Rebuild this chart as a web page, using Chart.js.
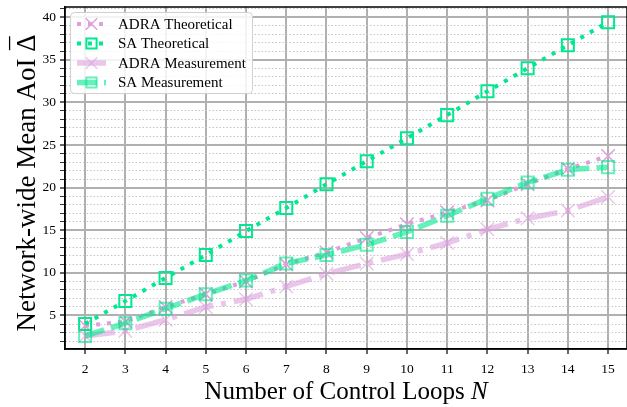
<!DOCTYPE html>
<html>
<head>
<meta charset="utf-8">
<script src="https://cdn.jsdelivr.net/npm/chart.js@4.4.0/dist/chart.umd.min.js"></script>
<style>
  html, body { margin: 0; padding: 0; background: #fff; }
  #wrap { width: 627px; height: 407px; position: relative; }
</style>
</head>
<body>
<div id="wrap"><canvas id="chart"></canvas></div>
<script>
// values
const loops = [2, 3, 4, 5, 6, 7, 8, 9, 10, 11, 12, 13, 14, 15];
const adraTheo = [3.8, 4.3, 6.0, 7.5, 9.0, 11.0, 12.4, 14.1, 15.7, 17.1, 18.5, 20.4, 22.2, 23.7];
const saTheo   = [4.0, 6.7, 9.4, 12.1, 14.9, 17.6, 20.4, 23.1, 25.8, 28.5, 31.3, 34.0, 36.7, 39.4];
const adraMeas = [2.6, 3.2, 4.5, 6.0, 6.9, 8.4, 9.9, 11.1, 12.2, 13.5, 15.1, 16.4, 17.3, 18.9];
const saMeas   = [2.6, 4.1, 5.8, 7.5, 9.1, 11.1, 12.1, 13.3, 14.8, 16.7, 18.7, 20.6, 22.1, 22.4];
const yTicks = [5, 10, 15, 20, 25, 30, 35, 40];

const SERIF = "'Liberation Serif', 'DejaVu Serif', serif";
const plum = '#dda0dd';
const plumLight = 'rgba(221,160,221,0.6)';
const green = '#00e890';
const greenLight = 'rgba(0,232,144,0.6)';

const pts = arr => loops.map((n, i) => ({x: n, y: arr[i]}));

const datasets = [
  {label: 'ADRA Theoretical', data: pts(adraTheo), borderColor: plum, borderWidth: 4, borderDash: [4, 7],
   pointStyle: 'crossRot', pointRadius: 9.5, pointBorderWidth: 1.5, pointBorderColor: plum, pointBackgroundColor: plum, order: 3},
  {label: 'SA Theoretical', data: pts(saTheo), borderColor: green, borderWidth: 4, borderDash: [4, 7],
   pointStyle: 'rect', pointRadius: 8.5, pointBorderWidth: 2, pointBorderColor: green, pointBackgroundColor: 'rgba(0,0,0,0)', order: 2},
  {label: 'ADRA Measurement', data: pts(adraMeas), borderColor: plumLight, borderWidth: 5.5, borderDash: [30, 8, 5, 8],
   pointStyle: 'crossRot', pointRadius: 9.5, pointBorderWidth: 1.5, pointBorderColor: plumLight, pointBackgroundColor: plumLight, order: 1},
  {label: 'SA Measurement', data: pts(saMeas), borderColor: greenLight, borderWidth: 5.5, borderDash: [20, 7],
   pointStyle: 'rect', pointRadius: 8.5, pointBorderWidth: 2, pointBorderColor: greenLight, pointBackgroundColor: 'rgba(0,0,0,0)', order: 0}
];
datasets.forEach(d => { d.fill = false; d.tension = 0; d.borderCapStyle = 'butt'; });

// frame, axis titles and the in-plot legend
const extras = {
  id: 'extras',
  afterDraw(chart) {
    const ctx = chart.ctx, a = chart.chartArea;
    ctx.save();
    ctx.strokeStyle = '#000';
    ctx.lineWidth = 1.5;
    ctx.setLineDash([]);
    ctx.strokeRect(a.left, a.top, a.right - a.left, a.bottom - a.top);

    // x title, italic N
    ctx.fillStyle = '#000';
    ctx.textBaseline = 'alphabetic';
    const xf = '25px ' + SERIF, xfi = 'italic 25px ' + SERIF;
    const xt = 'Number of Control Loops ';
    ctx.font = xf; const xw1 = ctx.measureText(xt).width;
    ctx.font = xfi; const xw2 = ctx.measureText('N').width;
    const x0 = 346 - (xw1 + xw2) / 2;
    ctx.font = xf; ctx.fillText(xt, x0, 399);
    ctx.font = xfi; ctx.fillText('N', x0 + xw1, 399);

    // y title, rotated, with a bar over the delta
    const yf = '27px ' + SERIF;
    const yt = 'Network-wide Mean AoI ';
    ctx.font = yf;
    const yw1 = ctx.measureText(yt).width, dw = ctx.measureText('\u0394').width;
    ctx.save();
    ctx.translate(35, 183);
    ctx.rotate(-Math.PI / 2);
    const y0 = -(yw1 + dw) / 2;
    ctx.fillText(yt, y0, 0);
    ctx.fillText('\u0394', y0 + yw1, 0);
    ctx.textAlign = 'center';
    ctx.fillText('\u00af', y0 + yw1 + dw / 2, -5);
    ctx.restore();

    // legend box
    ctx.beginPath();
    ctx.roundRect(70.5, 12.5, 182, 81, 4);
    ctx.fillStyle = 'rgba(255,255,255,0.85)';
    ctx.fill();
    ctx.strokeStyle = '#d0d0d0';
    ctx.lineWidth = 1;
    ctx.stroke();

    chart.data.datasets.forEach((ds, i) => {
      const y = 24 + i * 19.5;
      ctx.strokeStyle = ds.borderColor;
      ctx.lineWidth = ds.borderWidth;
      ctx.setLineDash(ds.borderDash);
      ctx.lineCap = 'butt';
      ctx.beginPath();
      ctx.moveTo(77, y);
      ctx.lineTo(106, y);
      ctx.stroke();
      ctx.setLineDash([]);
      ctx.strokeStyle = ds.pointBorderColor;
      ctx.fillStyle = ds.pointBackgroundColor;
      ctx.lineWidth = ds.pointBorderWidth;
      Chart.helpers.drawPoint(ctx, {pointStyle: ds.pointStyle, radius: ds.pointRadius * 0.85, borderWidth: ds.pointBorderWidth, rotation: 0}, 91.5, y);
      ctx.fillStyle = '#000';
      ctx.font = '15px ' + SERIF;
      ctx.textBaseline = 'middle';
      ctx.fillText(ds.label, 118, y + 1);
    });
    ctx.restore();
  }
};

new Chart(document.getElementById('chart'), {
  type: 'line',
  data: {datasets},
  plugins: [extras],
  options: {
    responsive: true,
    maintainAspectRatio: false,
    animation: false,
    layout: {autoPadding: false, padding: {top: 7, right: 0, left: 0, bottom: 0}},
    plugins: {legend: {display: false}, tooltip: {enabled: false}},
    scales: {
      x: {
        type: 'linear', min: 1.5, max: 15.47,
        afterBuildTicks: s => { s.ticks = loops.map(v => ({value: v})); },
        afterFit: s => { s.height = 58; s.paddingLeft = 0; s.paddingRight = 0; },
        ticks: {autoSkip: false, maxRotation: 0, color: '#000', padding: 7,
                font: {family: SERIF, size: 13.5}},
        grid: {color: '#b0b0b0', lineWidth: 2, tickColor: '#000', tickLength: 5, tickWidth: 1.2},
        border: {display: true, color: '#000', width: 1.5}
      },
      y: {
        type: 'linear', min: 1.07, max: 41.18,
        afterBuildTicks: s => {
          const t = [];
          for (let v = 2; v <= 41; v++) t.push({value: v});
          s.ticks = t;
        },
        afterFit: s => { s.width = 65; s.paddingTop = 0; s.paddingBottom = 0; },
        ticks: {autoSkip: false, color: '#000', padding: 4,
                font: {family: SERIF, size: 13.5},
                callback: v => yTicks.includes(v) ? String(v) : ''},
        grid: {
          color: c => (c.tick && yTicks.includes(c.tick.value)) ? '#b0b0b0' : '#c4c4c4',
          lineWidth: c => (c.tick && yTicks.includes(c.tick.value)) ? 2 : 1,
          tickColor: '#000', tickLength: 5,
          tickWidth: c => (c.tick && yTicks.includes(c.tick.value)) ? 1.2 : 0.8
        },
        border: {display: true, color: '#000', width: 1.5,
                 dash: c => (c.tick && !yTicks.includes(c.tick.value)) ? [1.5, 2] : []}
      }
    }
  }
});
</script>
</body>
</html>
